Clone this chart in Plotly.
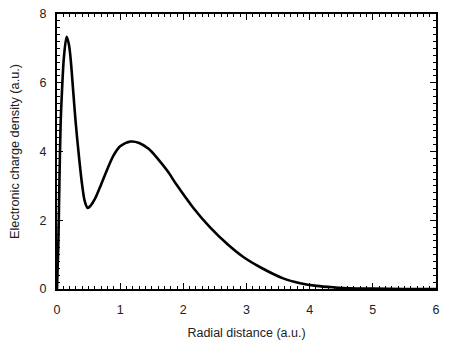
import plotly.graph_objects as go

radial_distance = [0, 0.02, 0.04, 0.058, 0.08, 0.11, 0.153, 0.19, 0.217, 0.258, 0.296,
                   0.348, 0.40, 0.44, 0.486, 0.53, 0.60, 0.70, 0.80, 0.90, 1.00, 1.166,
                   1.30, 1.45, 1.60, 1.75, 1.894, 2.15, 2.42, 2.70, 2.95, 3.21, 3.58,
                   3.85, 4.11, 4.40, 4.64, 5.0, 5.5, 6.0]
charge_density = [0, 1.2, 3.3, 4.84, 5.8, 6.75, 7.34, 7.1, 6.67, 5.72, 4.84,
                  3.85, 3.0, 2.55, 2.36, 2.42, 2.62, 3.05, 3.50, 3.90, 4.15, 4.29,
                  4.25, 4.08, 3.78, 3.43, 3.03, 2.38, 1.80, 1.30, 0.93, 0.64, 0.31,
                  0.17, 0.09, 0.045, 0.02, 0.01, 0.0, 0.0]

x_ticks = [0, 1, 2, 3, 4, 5, 6]
y_ticks = [0, 2, 4, 6, 8]

FONT = "Liberation Sans, Arial, sans-serif"

fig = go.Figure()
fig.add_trace(go.Scatter(
    x=radial_distance, y=charge_density, mode="lines",
    line=dict(color="black", width=2.6, shape="spline", smoothing=0.9),
    showlegend=False,
))

axis_common = dict(
    showgrid=False, zeroline=False, showline=True, linecolor="black", linewidth=2,
    mirror="allticks", ticks="inside", ticklen=6, tickwidth=1.3, tickcolor="black",
    tickfont=dict(family=FONT, size=12.5, color="#222"), automargin=False,
    ticklabeloverflow="allow",
)

fig.update_xaxes(
    range=[0, 6], tickvals=x_ticks, ticklabelstandoff=8,
    minor=dict(dtick=0.1, ticks="inside", ticklen=3, tickwidth=1.1, tickcolor="black"),
    title=dict(text="Radial distance (a.u.)", standoff=12,
               font=dict(family=FONT, size=12.5, color="#222")),
    **axis_common,
)
fig.update_yaxes(
    range=[0, 8], tickvals=y_ticks, ticklabelstandoff=6,
    minor=dict(dtick=0.2, ticks="inside", ticklen=3, tickwidth=1.1, tickcolor="black"),
    title=dict(text="Electronic charge density (a.u.)", standoff=18,
               font=dict(family=FONT, size=12.7, color="#222")),
    **axis_common,
)

# page body adds an 8px offset; size the figure so the plot lands where the reference has it
fig.update_layout(
    width=443, height=332,
    margin=dict(l=49, r=15, t=6, b=51),
    paper_bgcolor="white", plot_bgcolor="white",
)

fig.write_html("out.html")
